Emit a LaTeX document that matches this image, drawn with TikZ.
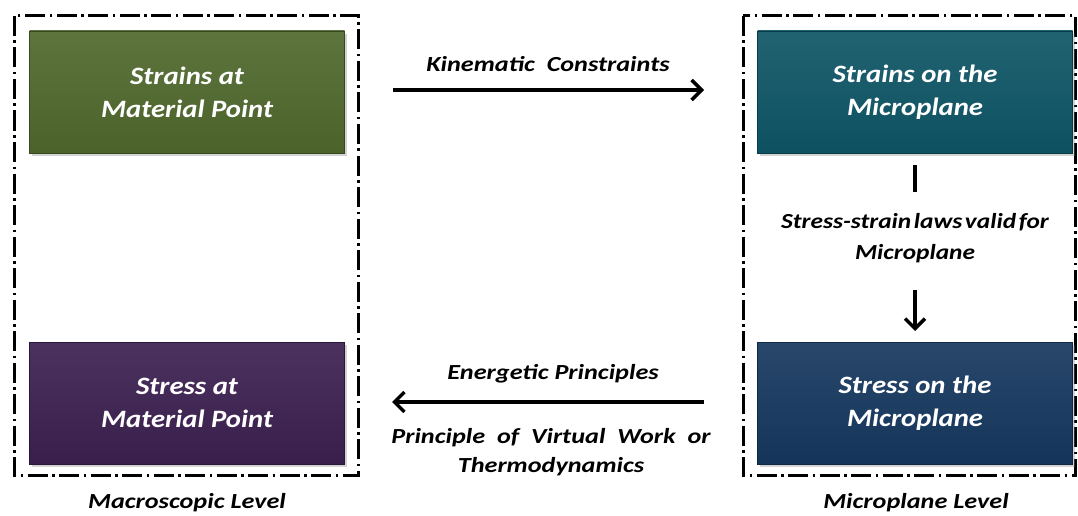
\documentclass[tikz,border=0pt]{standalone}
\usepackage{fontspec}
\setmainfont{Carlito}
\newfontfamily\boxfont{Carlito}[FakeStretch=1.15]
\newfontfamily\lblfont{Carlito}[FakeStretch=1.22]
\newfontfamily\lawfont{Carlito}[FakeStretch=1.18,WordSpace=0.45]
\usetikzlibrary{arrows.meta,shadows}
\definecolor{cgreen}{RGB}{79,104,45}
\definecolor{cteal}{RGB}{14,85,101}
\definecolor{cpurple}{RGB}{60,32,80}
\definecolor{cnavy}{RGB}{21,55,94}
\tikzset{
  box/.style={draw=#1!70!black, line width=0.8pt, top color=#1!92!white, bottom color=#1!95!black,
    minimum width=315pt, minimum height=122pt, inner sep=0pt,
    text=white, align=center, font=\boxfont\fontsize{25}{33}\selectfont\bfseries\itshape,
    drop shadow={shadow xshift=2pt, shadow yshift=-3pt, opacity=0.35}},
  frame/.style={line width=3pt, dash pattern=on 20pt off 4.5pt on 2.5pt off 4.5pt},
  lbl/.style={align=center, font=\lblfont\fontsize{21.5}{29}\selectfont\bfseries\itshape, inner sep=0pt},
  lawlbl/.style={align=center, font=\lawfont\fontsize{21.5}{31}\selectfont\bfseries\itshape, inner sep=0pt},
  conn/.style={line width=3.5pt, -{Straight Barb[length=10pt,width=20pt,line width=3.5pt]}},
}
\begin{document}
\begin{tikzpicture}[x=1pt,y=-1pt]
\useasboundingbox (0,0) rectangle (1078,516);
% frames
\draw[frame] (14,16) rectangle (358,475);
\draw[frame] (743,16) rectangle (1075,475);
% boxes
\node[box=cgreen] (smp) at (187,92) {Strains at\\Material Point};
\node[box=cteal] (smic) at (915,92) {Strains on the\\Microplane};
\node[box=cpurple] (tmp) at (187,403) {Stress at\\Material Point};
\node[box=cnavy] (tmic) at (915,403) {Stress on the\\Microplane};
% level labels
\node[lbl] (macro) at (187,503) {Macroscopic Level};
\node[lbl] (micro) at (916,503) {Microplane Level};
% top arrow
\coordinate (ka) at (393,90);
\coordinate (kb) at (704,90);
\draw[conn] (ka) -- (kb);
\node[lbl] (kin) at (548,64) {Kinematic\ \ Constraints};
% bottom arrow
\coordinate (ea) at (704,402);
\coordinate (eb) at (392,402);
\draw[conn] (ea) -- (eb);
\node[lbl] (ene) at (553,374) {Energetic Principles};
\node[lbl] (pvw) at (551,452) {Principle\ \ of\ \ Virtual\ \ Work\ \ or\\Thermodynamics};
% vertical connector
\node[lawlbl] (law) at (915,238) {Stress-strain laws valid for\\Microplane};
\coordinate (va) at (915,165);
\coordinate (vb) at (915,192);
\coordinate (vc) at (915,290);
\coordinate (vd) at (915,331);
\draw[line width=4pt] (va) -- (vb);
\draw[conn] (vc) -- (vd);
\end{tikzpicture}
\end{document}
